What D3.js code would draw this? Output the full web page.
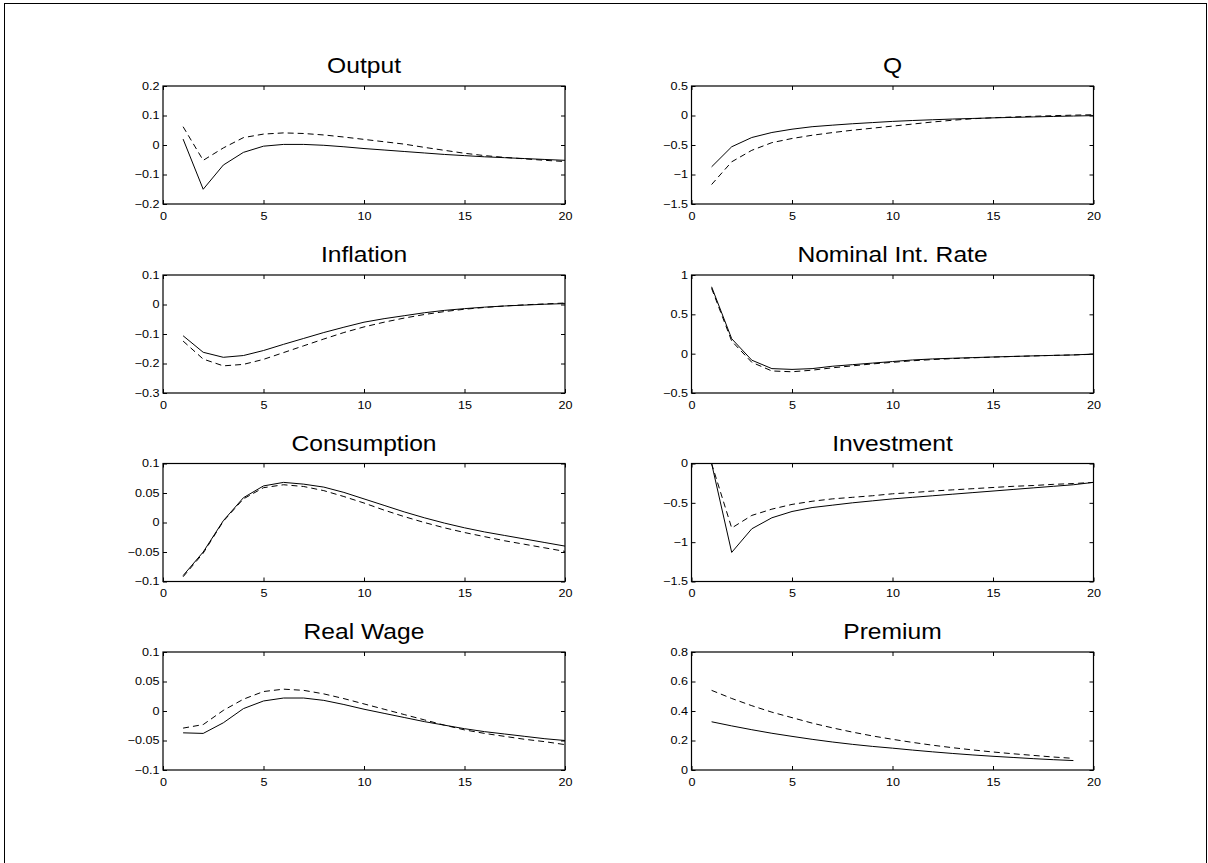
<!DOCTYPE html>
<html>
<head>
<meta charset="utf-8">
<script src="https://cdn.jsdelivr.net/npm/d3@7"></script>
<style>
  body { margin: 0; background: #fff; }
  svg { display: block; }
  text { font-family: "Liberation Sans", Arial, Helvetica, sans-serif; fill: #000; }
</style>
</head>
<body>
<svg id="fig"></svg>
<script>
// horizons 1..20 (premium stops at 19)
const steps = d3.range(1, 21);
const premiumSteps = d3.range(1, 20);

const titles = ["Output", "Q", "Inflation", "Nominal Int. Rate",
                "Consumption", "Investment", "Real Wage", "Premium"];

const xTicks = [0, 5, 10, 15, 20];

const outputSolid  = [0.02, -0.15, -0.068, -0.025, -0.004, 0.002, 0.002, -0.001, -0.006, -0.012,
                      -0.017, -0.022, -0.027, -0.032, -0.036, -0.04, -0.043, -0.046, -0.049, -0.052];
const outputDashed = [0.062, -0.052, -0.01, 0.025, 0.037, 0.041, 0.039, 0.034, 0.027, 0.019,
                      0.011, 0.003, -0.008, -0.018, -0.028, -0.036, -0.042, -0.047, -0.052, -0.056];
const outputTicks  = [-0.2, -0.1, 0, 0.1, 0.2];

const qSolid  = [-0.87, -0.53, -0.373, -0.288, -0.232, -0.19, -0.164, -0.14, -0.12, -0.1,
                 -0.085, -0.072, -0.06, -0.05, -0.04, -0.032, -0.024, -0.016, -0.009, -0.002];
const qDashed = [-1.17, -0.785, -0.59, -0.46, -0.39, -0.335, -0.29, -0.25, -0.215, -0.18,
                 -0.145, -0.11, -0.08, -0.055, -0.038, -0.025, -0.013, -0.003, 0.006, 0.013];
const qTicks  = [-1.5, -1, -0.5, 0, 0.5];

const inflationSolid  = [-0.106, -0.162, -0.179, -0.173, -0.156, -0.135, -0.115, -0.095, -0.077, -0.06,
                         -0.048, -0.038, -0.028, -0.02, -0.014, -0.009, -0.005, -0.002, 0.001, 0.003];
const inflationDashed = [-0.124, -0.185, -0.208, -0.203, -0.186, -0.163, -0.14, -0.117, -0.095, -0.076,
                         -0.06, -0.046, -0.034, -0.024, -0.016, -0.01, -0.005, -0.001, 0.002, 0.005];
const inflationTicks  = [-0.3, -0.2, -0.1, 0, 0.1];

const rateSolid  = [0.85, 0.19, -0.083, -0.19, -0.2, -0.19, -0.16, -0.14, -0.12, -0.1,
                    -0.08, -0.067, -0.058, -0.05, -0.042, -0.035, -0.028, -0.022, -0.016, -0.005];
const rateDashed = [0.83, 0.16, -0.11, -0.22, -0.23, -0.21, -0.18, -0.155, -0.13, -0.11,
                    -0.09, -0.075, -0.063, -0.053, -0.044, -0.036, -0.029, -0.022, -0.016, -0.008];
const rateTicks  = [-0.5, 0, 0.5, 1];

const consSolid  = [-0.09, -0.05, 0.003, 0.042, 0.062, 0.068, 0.065, 0.06, 0.051, 0.04,
                    0.029, 0.018, 0.008, -0.001, -0.009, -0.016, -0.022, -0.028, -0.034, -0.04];
const consDashed = [-0.092, -0.052, 0.002, 0.04, 0.059, 0.064, 0.061, 0.054, 0.044, 0.033,
                    0.021, 0.01, 0.0, -0.009, -0.017, -0.024, -0.031, -0.037, -0.043, -0.049];
const consTicks  = [-0.1, -0.05, 0, 0.05, 0.1];

const invSolid  = [0.0, -1.13, -0.83, -0.69, -0.61, -0.56, -0.53, -0.5, -0.475, -0.45,
                   -0.43, -0.41, -0.39, -0.37, -0.35, -0.33, -0.31, -0.29, -0.27, -0.24];
const invDashed = [0.0, -0.82, -0.66, -0.58, -0.52, -0.48, -0.45, -0.43, -0.41, -0.385,
                   -0.37, -0.35, -0.335, -0.32, -0.305, -0.29, -0.28, -0.265, -0.255, -0.24];
const invTicks  = [-1.5, -1, -0.5, 0];

const wageSolid  = [-0.037, -0.038, -0.02, 0.004, 0.017, 0.022, 0.022, 0.018, 0.011, 0.003,
                    -0.004, -0.011, -0.018, -0.024, -0.03, -0.035, -0.039, -0.043, -0.047, -0.05];
const wageDashed = [-0.029, -0.023, 0.001, 0.02, 0.033, 0.037, 0.035, 0.029, 0.021, 0.012,
                    0.003, -0.006, -0.015, -0.024, -0.032, -0.038, -0.043, -0.048, -0.052, -0.057];
const wageTicks  = [-0.1, -0.05, 0, 0.05, 0.1];

const premSolid  = [0.327, 0.299, 0.273, 0.249, 0.228, 0.208, 0.19, 0.174, 0.16, 0.148,
                    0.135, 0.123, 0.112, 0.102, 0.093, 0.085, 0.077, 0.07, 0.064];
const premDashed = [0.54, 0.485, 0.436, 0.392, 0.355, 0.318, 0.286, 0.257, 0.231, 0.208,
                    0.187, 0.168, 0.151, 0.136, 0.122, 0.11, 0.099, 0.088, 0.079];
const premTicks  = [0, 0.2, 0.4, 0.6, 0.8];

const panels = [
  { x: steps, solid: outputSolid, dashed: outputDashed, ticks: outputTicks },
  { x: steps, solid: qSolid, dashed: qDashed, ticks: qTicks },
  { x: steps, solid: inflationSolid, dashed: inflationDashed, ticks: inflationTicks },
  { x: steps, solid: rateSolid, dashed: rateDashed, ticks: rateTicks },
  { x: steps, solid: consSolid, dashed: consDashed, ticks: consTicks },
  { x: steps, solid: invSolid, dashed: invDashed, ticks: invTicks },
  { x: steps, solid: wageSolid, dashed: wageDashed, ticks: wageTicks },
  { x: premiumSteps, solid: premSolid, dashed: premDashed, ticks: premTicks },
];

const W = 1208, H = 863;
const colLeft = [163, 691.5];
const panelW = 402;
const rowTop = [86, 275, 463.5, 652];
const panelH = 118;
const tick = 4;

const svg = d3.select('#fig')
    .attr('width', W)
    .attr('height', H);

// figure frame
svg.append('rect')
    .attr('x', 4.5).attr('y', 3.5)
    .attr('width', 1202).attr('height', 880)
    .attr('fill', 'none')
    .attr('stroke', '#000')
    .attr('stroke-width', 1);

const fmt = d3.format('');

panels.forEach((p, i) => {
    const left = colLeft[i % 2];
    const top = rowTop[Math.floor(i / 2)];

    const xscale = d3.scaleLinear().domain([0, 20]).range([0, panelW]);
    const yscale = d3.scaleLinear()
        .domain([p.ticks[0], p.ticks[p.ticks.length - 1]])
        .range([panelH, 0]);

    const g = svg.append('g')
        .attr('transform', `translate(${left}, ${top})`);

    // title
    g.append('text')
        .attr('transform', `translate(${panelW / 2}, -13) scale(1.12, 1)`)
        .attr('text-anchor', 'middle')
        .attr('font-size', '22px')
        .text(titles[i]);

    // axes, ticks point inward on all four sides
    const xaxis = g.append('g')
        .attr('transform', `translate(0, ${panelH})`)
        .call(d3.axisBottom(xscale).tickValues(xTicks).tickSizeInner(-tick).tickSizeOuter(0).tickPadding(12).tickFormat(fmt));
    g.append('g')
        .call(d3.axisTop(xscale).tickValues(xTicks).tickSizeInner(-tick).tickSizeOuter(0).tickFormat(''));
    const yaxis = g.append('g')
        .call(d3.axisLeft(yscale).tickValues(p.ticks).tickSizeInner(-tick).tickSizeOuter(0).tickPadding(3).tickFormat(fmt));
    g.append('g')
        .attr('transform', `translate(${panelW}, 0)`)
        .call(d3.axisRight(yscale).tickValues(p.ticks).tickSizeInner(-tick).tickSizeOuter(0).tickFormat(''));

    g.selectAll('.domain').remove();
    g.selectAll('.tick line').attr('stroke', '#000');
    [xaxis, yaxis].forEach(a => a.selectAll('text')
        .attr('font-size', '10.5px')
        .attr('fill', '#000')
        .attr('transform', 'scale(1.2, 1)'));
    xaxis.selectAll('text').attr('dy', '0.71em').attr('y', 8.5);

    // box
    g.append('rect')
        .attr('width', panelW)
        .attr('height', panelH)
        .attr('fill', 'none')
        .attr('stroke', '#000')
        .attr('stroke-width', 1.2);

    const line = (vals) => d3.line()
        .x((d, j) => xscale(p.x[j]))
        .y(d => yscale(d))(vals);

    g.append('path')
        .attr('d', line(p.solid))
        .attr('fill', 'none')
        .attr('stroke', '#000')
        .attr('stroke-width', 1);

    g.append('path')
        .attr('d', line(p.dashed))
        .attr('fill', 'none')
        .attr('stroke', '#000')
        .attr('stroke-width', 1)
        .attr('stroke-dasharray', '6,4');
});
</script>
</body>
</html>
